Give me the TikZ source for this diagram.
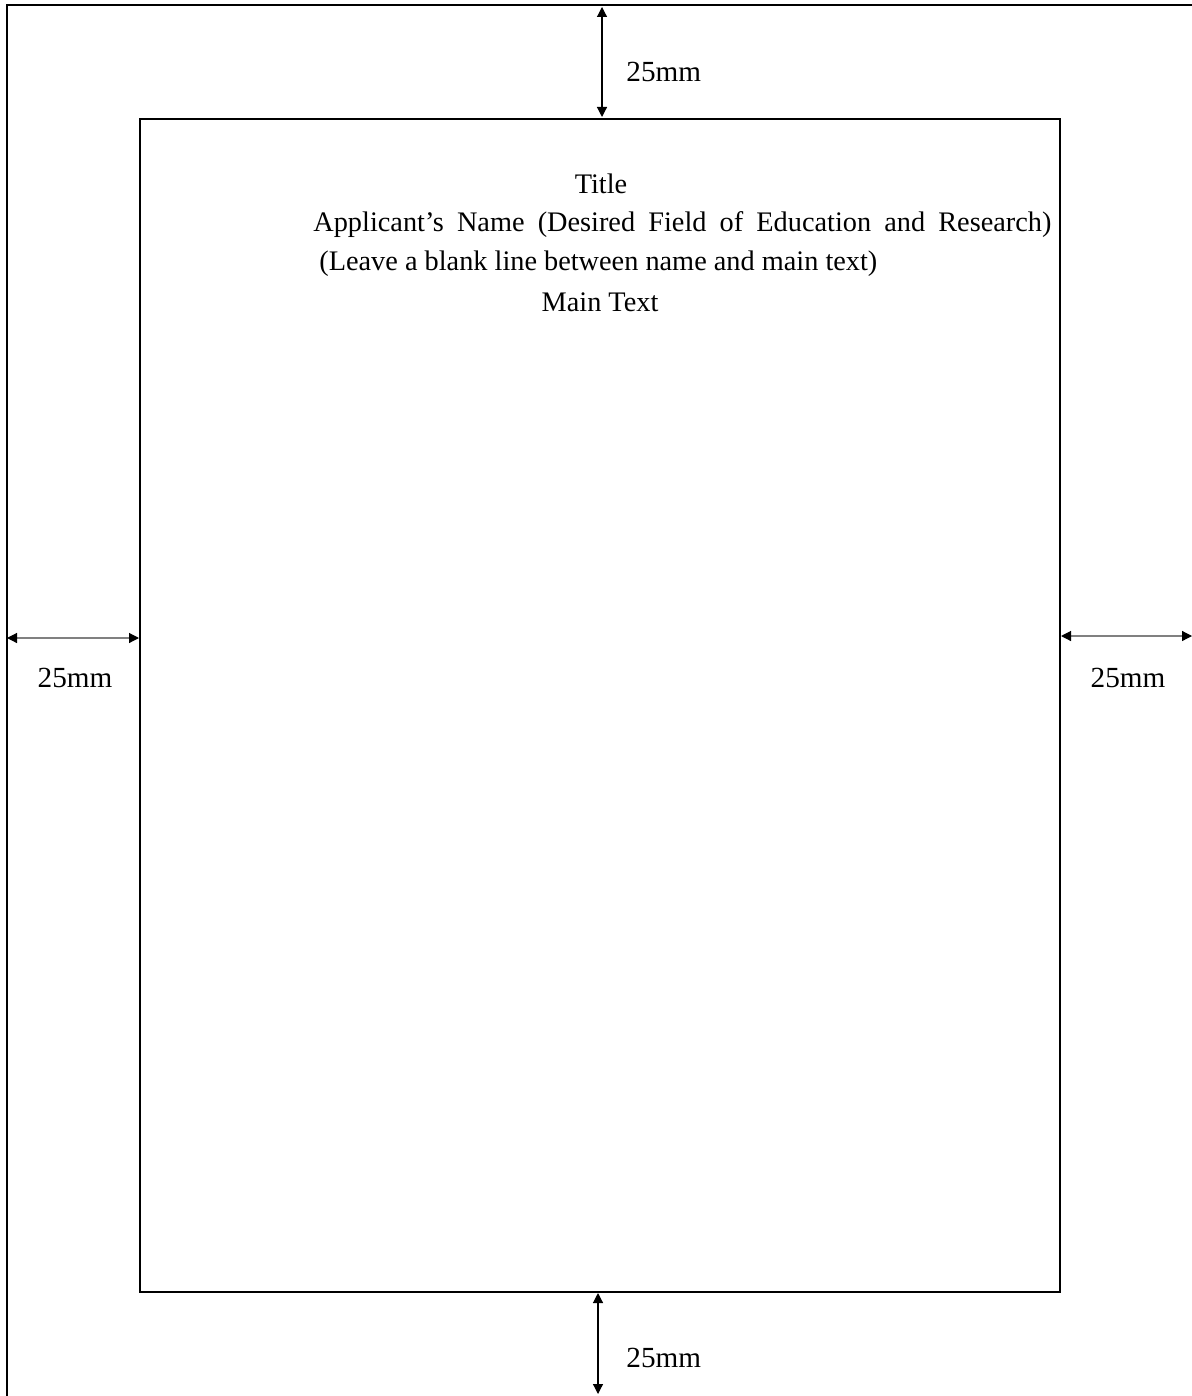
\documentclass[tikz,border=0pt]{standalone}
\usepackage{fontspec}
\setmainfont{Liberation Serif}
\usetikzlibrary{arrows.meta,positioning}

\begin{document}
\begin{tikzpicture}[x=0.5pt, y=-0.5pt,
    >={Triangle[length=5pt,width=5pt,color=black]},
    frame/.style={line width=1.2pt},
    dim/.style={<->, line width=0.6pt},
    dimlbl/.style={font=\fontsize{14.6}{17}\selectfont, inner sep=0pt},
    txt/.style={font=\fontsize{14.15}{17}\selectfont, inner sep=0pt}]
    \useasboundingbox (0,0) rectangle (1192,1396);

    % Paper edge
    \coordinate (paper) at (7,5);
    \draw[frame] (7,1400) -- (paper) -- (1200,5);

    % Text area
    \coordinate (areatl) at (140,119);
    \coordinate (areabr) at (1060,1292);
    \draw[frame] (areatl) rectangle (areabr);

    % Margin arrows
    \coordinate (topa) at (602,7);
    \coordinate (topb) at (602,117);
    \draw[dim] (topa) -- (topb);
    \node[dimlbl, anchor=west] (toplbl) at (626,72) {25mm};

    \coordinate (lefta) at (7,638);
    \coordinate (leftb) at (139,638);
    \draw[dim, gray] (lefta) -- (leftb);
    \node[dimlbl] (leftlbl) at (75,678) {25mm};

    \coordinate (righta) at (1061,636);
    \coordinate (rightb) at (1192,636);
    \draw[dim, gray] (righta) -- (rightb);
    \node[dimlbl] (rightlbl) at (1128,678) {25mm};

    \coordinate (bota) at (598,1293);
    \coordinate (botb) at (598,1394);
    \draw[dim] (bota) -- (botb);
    \node[dimlbl, anchor=west] (botlbl) at (626,1358) {25mm};

    % Page contents
    \node[txt] (title) at (601,184) {Title};
    \node[txt, anchor=west] (name) at (313,225)
        {\hbox to 369pt{Applicant’s Name (Desired Field of Education and Research)}};
    \node[txt, anchor=west] (blank) at (319,264)
        {(Leave a blank line between name and main text)};
    \node[txt] (main) at (600,302) {Main Text};
\end{tikzpicture}
\end{document}
